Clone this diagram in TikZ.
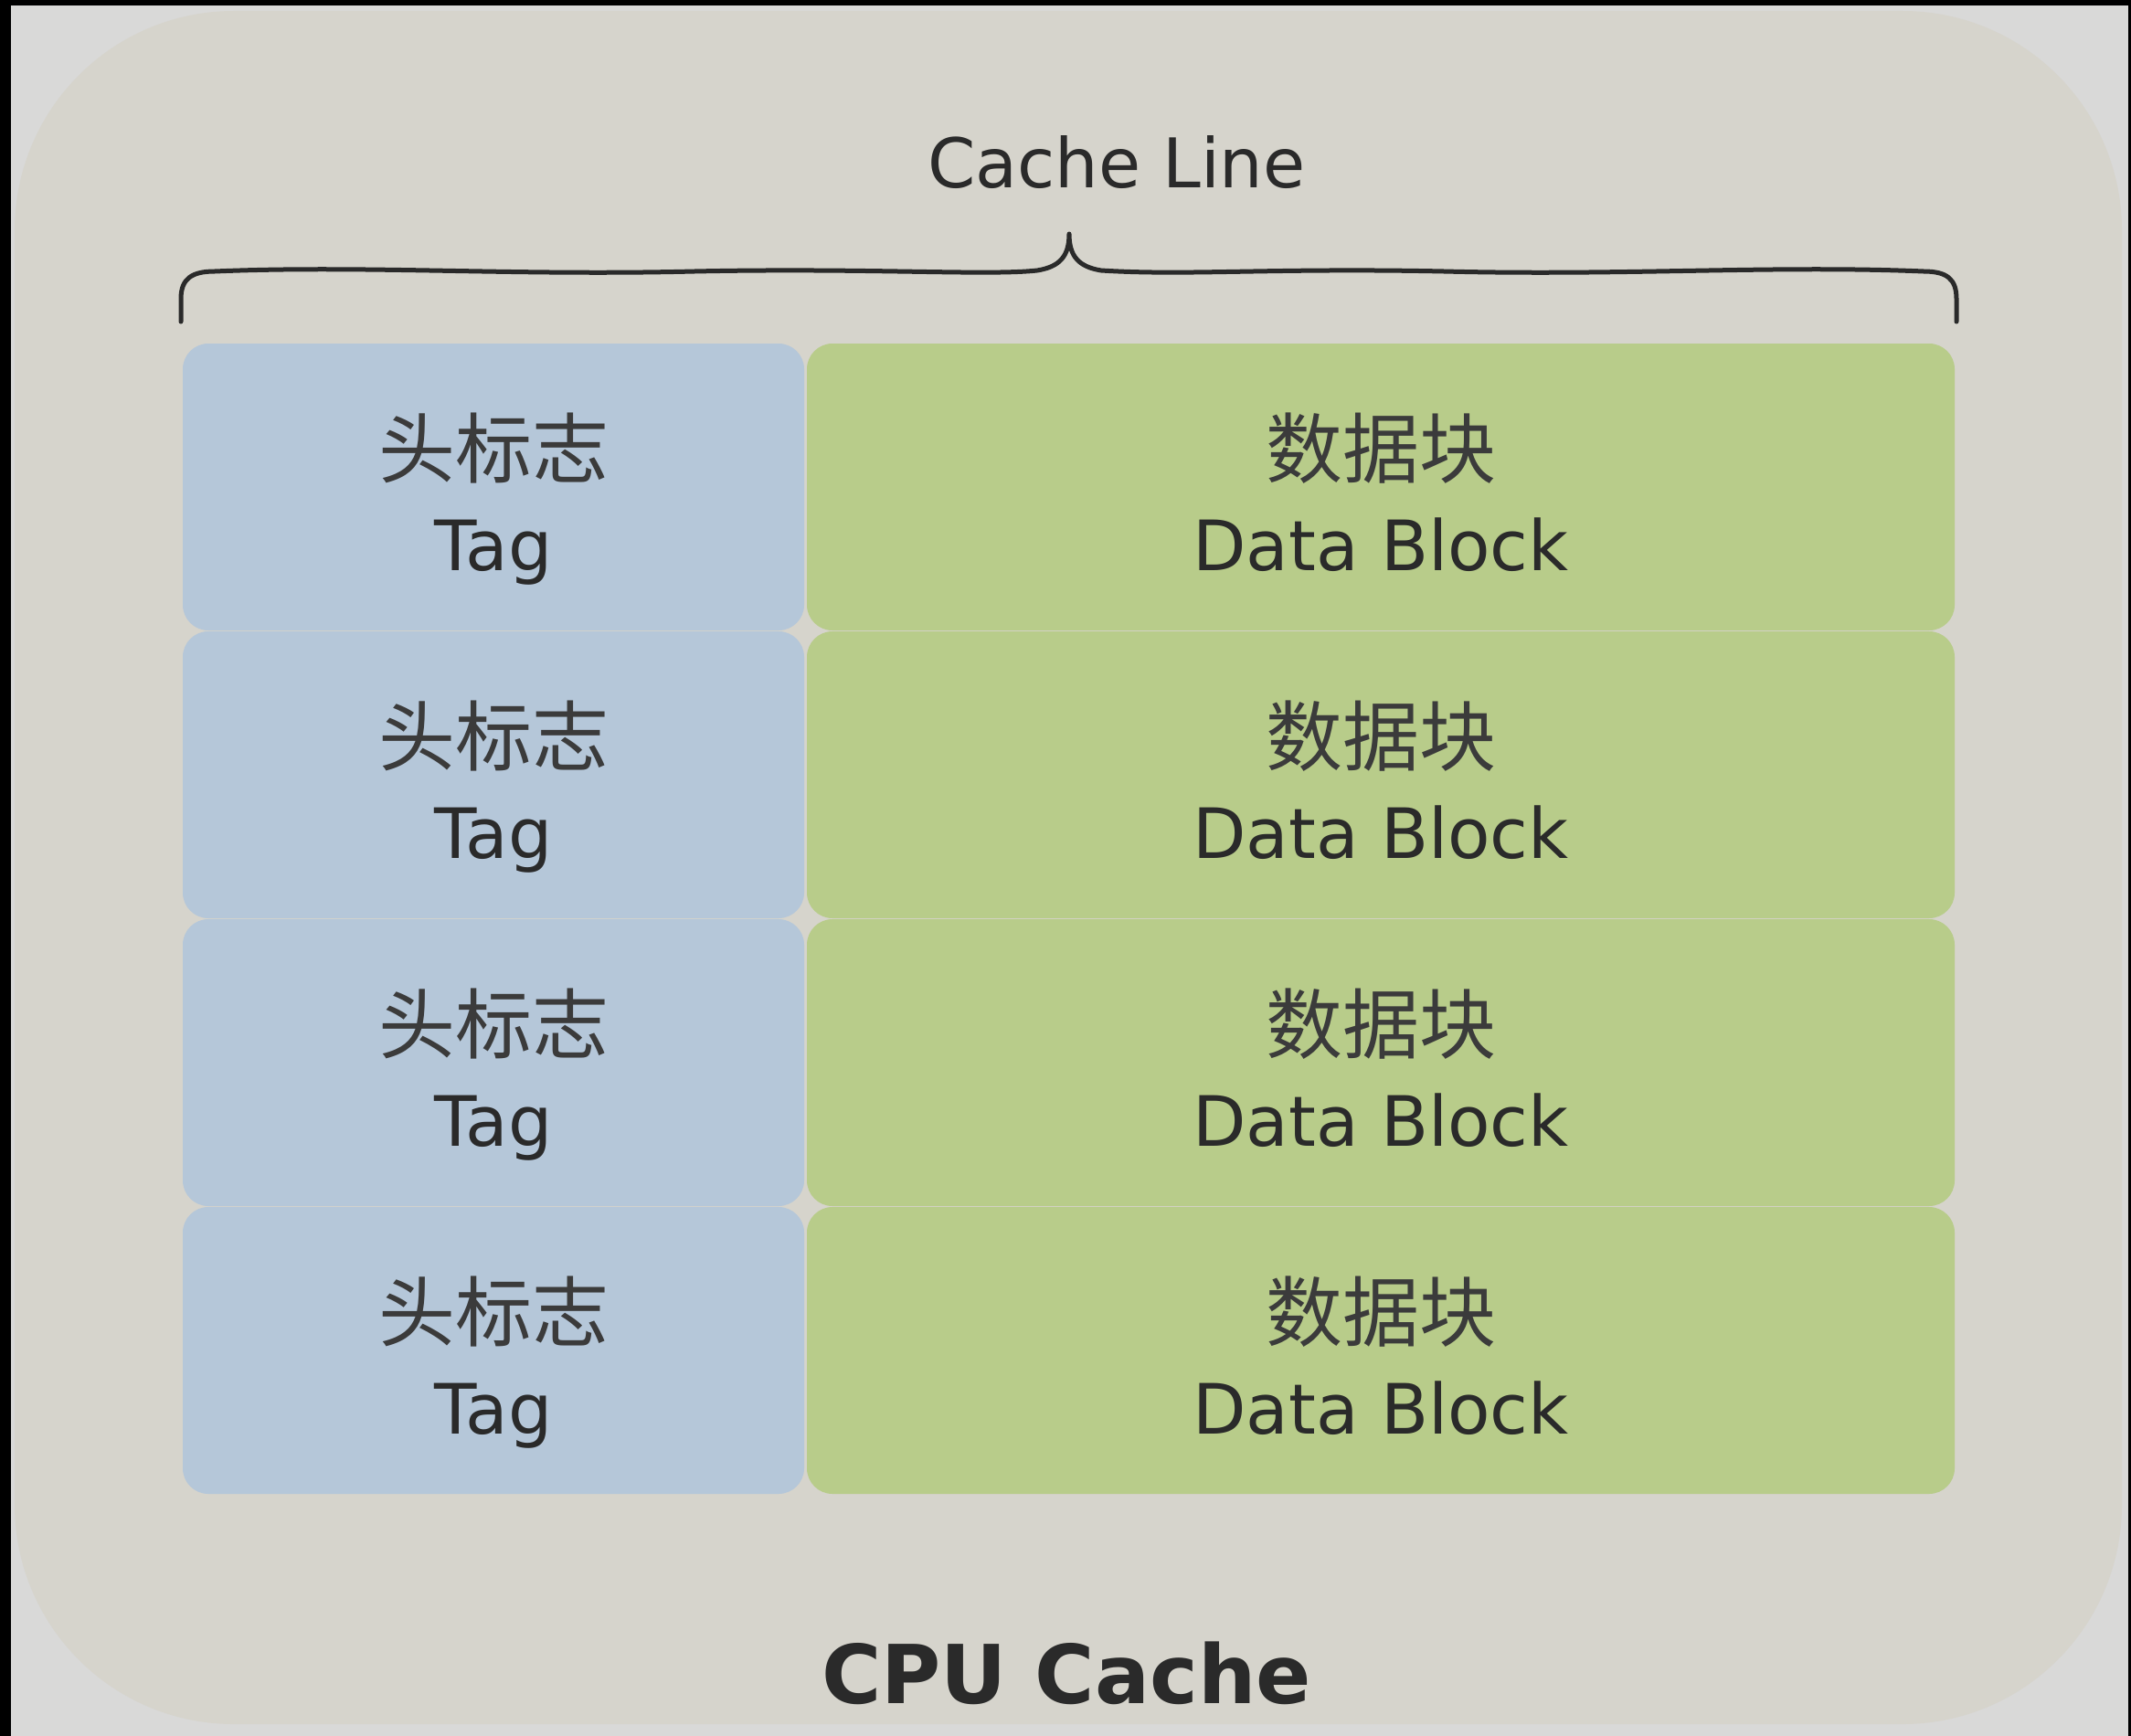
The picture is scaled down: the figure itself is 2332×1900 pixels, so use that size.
\documentclass[tikz,border=0pt]{standalone}
\usepackage{fontspec}
\setmainfont{DejaVu Sans}
\newfontfamily\cjk{Noto Sans CJK SC}
\usetikzlibrary{calc}
\definecolor{outerbg}{HTML}{D9D9D8}
\definecolor{panel}{HTML}{D6D4CC}
\definecolor{tagblue}{HTML}{B5C7D9}
\definecolor{datagreen}{HTML}{B8CC8A}
\definecolor{ink}{HTML}{2A2A2A}
\begin{document}
\begin{tikzpicture}[x=1pt,y=-1pt,
  block/.style={rectangle, rounded corners=28pt, minimum height=314pt, inner sep=0pt, draw=none},
  tagbox/.style={block, fill=tagblue, minimum width=680pt},
  databox/.style={block, fill=datagreen, minimum width=1256pt},
  cn/.style={font=\cjk\fontsize{84}{90}\selectfont, text=ink!92, inner sep=0pt},
  en/.style={font=\fontsize{76}{90}\selectfont, text=ink, inner sep=0pt, anchor=base},
  bracestyle/.style={draw=ink, line width=5pt, line cap=round, line join=round},
]
\useasboundingbox (0,0) rectangle (2332,1900);
\fill[black] (0,0) rectangle (2332,1900);
\fill[outerbg] (12,6) rectangle (2329,1900);
\fill[panel, rounded corners=240pt] (16,12) rectangle (2322,1887);

\foreach \i/\y in {1/533,2/848,3/1163,4/1478} {
  \node[tagbox] (tag\i) at (540,\y) {};
  \node[databox] (data\i) at (1511,\y) {};
  \node[cn] (tagcn\i) at ($(tag\i.north)+(0,115)$) {头标志};
  \node[en] (tagen\i) at ($(tag\i.north)+(0,249)$) {Tag};
  \node[cn] (datacn\i) at ($(data\i.north)+(0,115)$) {数据块};
  \node[en] (dataen\i) at ($(data\i.north)+(0,249)$) {Data Block};
}

\coordinate (bl) at (198,352);
\coordinate (br) at (2141,352);
\coordinate (tip) at (1170,256);
\draw[bracestyle] (bl) -- (198,327) .. controls (198,305) and (210,297) .. (235,297)
  .. controls (400,290) and (560,302) .. (760,297)
  .. controls (950,293) and (1080,302) .. (1135,296)
  .. controls (1160,292) and (1170,280) .. (tip)
  .. controls (1170,280) and (1180,292) .. (1205,296)
  .. controls (1300,302) and (1390,293) .. (1580,297)
  .. controls (1780,302) and (1940,290) .. (2105,297)
  .. controls (2130,297) and (2141,305) .. (2141,327) -- (br);

\node[en, font=\fontsize{75}{90}\selectfont] (cl) at (1222,205) {Cache Line};
\node[en, font=\bfseries\fontsize{89}{100}\selectfont] (cpu) at (1167,1864) {CPU Cache};
\end{tikzpicture}
\end{document}
